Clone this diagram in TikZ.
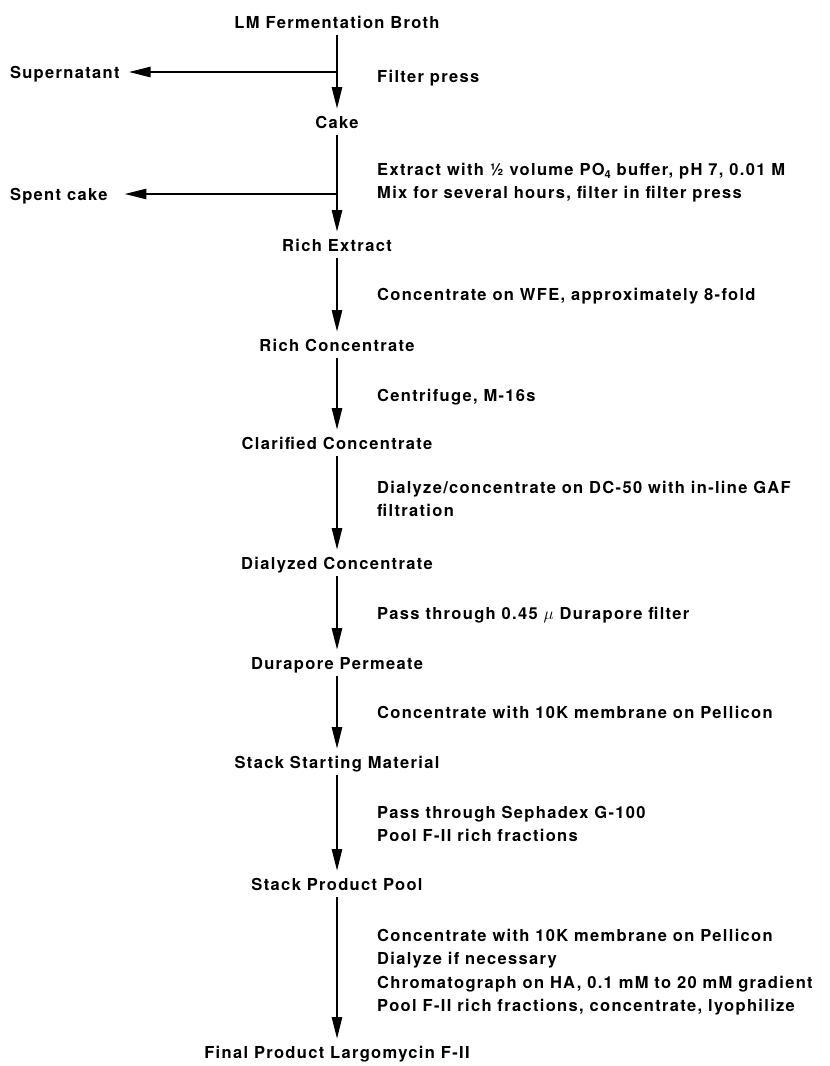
\documentclass[tikz,border=0pt]{standalone}
\usepackage{fontspec}
\setmainfont{TeX Gyre Heros}[LetterSpace=8]
\usetikzlibrary{arrows.meta}
\newcommand\flowfont{\fontsize{16.5}{23.3}\selectfont\bfseries}
\newcommand\subfour{\raisebox{-3.5pt}{\fontsize{11}{11}\selectfont\bfseries 4}}
\begin{document}
\begin{tikzpicture}[x=1pt,y=-1pt,
  title/.style={font=\flowfont, text height=12pt, text depth=0pt, inner sep=0pt, outer sep=7pt},
  side/.style={font=\flowfont, text height=12pt, text depth=0pt, inner sep=0pt, outer sep=0pt, anchor=west},
  stepbox/.style={font=\flowfont, align=left, inner sep=0pt, anchor=north west},
  flow/.style={line width=2.6pt, -{Triangle[length=22pt,width=10pt]}}
]
\useasboundingbox (0,0) rectangle (830,1066);

% main line of products
\node[title] (broth) at (337,22)   {LM Fermentation Broth};
\node[title] (cake)  at (337,122)  {Cake};
\node[title] (rich)  at (337,245)  {Rich Extract};
\node[title] (richc) at (337,345)  {Rich Concentrate};
\node[title] (clar)  at (337,443)  {Clarified Concentrate};
\node[title] (dial)  at (337,563)  {Dialyzed Concentrate};
\node[title] (dura)  at (337,663)  {Durapore Permeate};
\node[title] (ssm)   at (337,762)  {Stack Starting Material};
\node[title] (spp)   at (337,884)  {Stack Product Pool};
\node[title] (final) at (337,1052) {Final Product Largomycin F-II};

% side products
\node[side] (sup)   at (10,72)  {Supernatant};
\node[side] (spent) at (10,194) {Spent cake};
\coordinate (j1) at (337,72);
\coordinate (j2) at (337,194);

% process steps
\node[stepbox] (s1) at (377,70)  {Filter press};
\node[stepbox] (s2) at (377,163) {Extract with ½ volume PO\subfour{} buffer, pH 7, 0.01 M\\Mix for several hours, filter in filter press};
\node[stepbox] (s3) at (377,288) {Concentrate on WFE, approximately 8-fold};
\node[stepbox] (s4) at (377,389) {Centrifuge, M-16s};
\node[stepbox] (s5) at (377,481) {Dialyze/concentrate on DC-50 with in-line GAF\\filtration};
\node[stepbox] (s6) at (377,607) {Pass through 0.45 $\mu$ Durapore filter};
\node[stepbox] (s7) at (377,706) {Concentrate with 10K membrane on Pellicon};
\node[stepbox] (s8) at (377,806) {Pass through Sephadex G-100\\Pool F-II rich fractions};
\node[stepbox] (s9) at (377,929) {Concentrate with 10K membrane on Pellicon\\Dialyze if necessary\\Chromatograph on HA, 0.1 mM to 20 mM gradient\\Pool F-II rich fractions, concentrate, lyophilize};

% connectors
\draw[flow] (broth) -- (cake);
\draw[flow] (cake) -- (rich);
\draw[flow] (rich) -- (richc);
\draw[flow] (richc) -- (clar);
\draw[flow] (clar) -- (dial);
\draw[flow] (dial) -- (dura);
\draw[flow] (dura) -- (ssm);
\draw[flow] (ssm) -- (spp);
\draw[flow] (spp) -- (final);
\draw[flow, shorten >=9pt] (j1) -- (sup.east);
\draw[flow, shorten >=17pt] (j2) -- (spent.east);
\end{tikzpicture}
\end{document}
